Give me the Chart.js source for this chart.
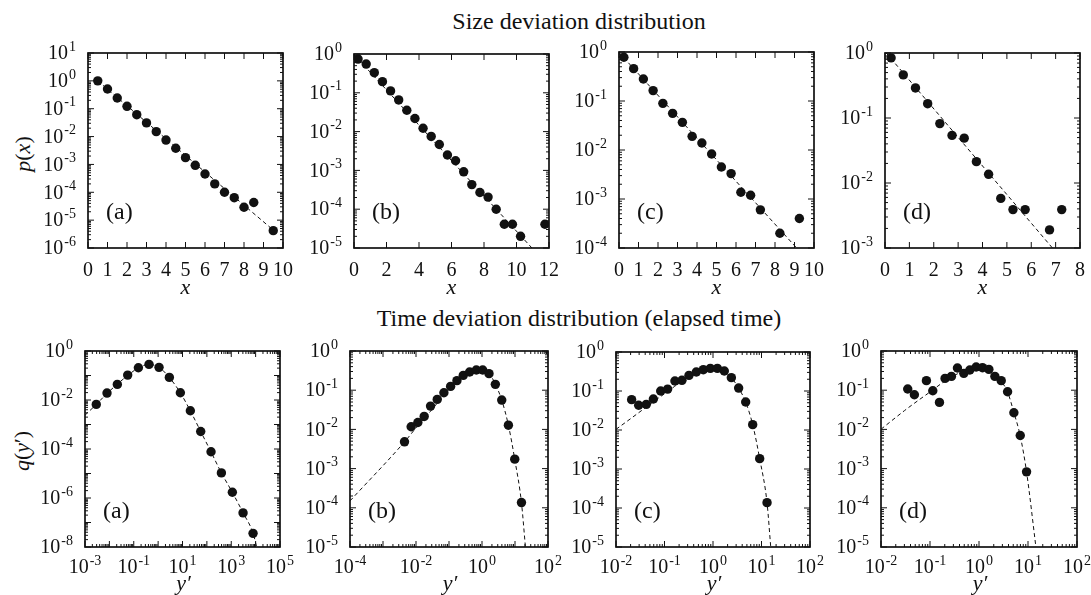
<!DOCTYPE html>
<html>
<head>
<meta charset="utf-8">
<script src="https://cdn.jsdelivr.net/npm/chart.js@4.4.1/dist/chart.umd.min.js"></script>
<style>
  body { margin: 0; background: #fff; }
  #fig { position: relative; width: 1091px; height: 595px; font-family: "Liberation Serif", "Times New Roman", serif; color: #111; }
  #fig canvas { position: absolute; left: 0; top: 0; }
  .lbl { position: absolute; transform: translate(-50%, -50%); white-space: nowrap; font-size: 24px; }
  .rot { transform: translate(-50%, -50%) rotate(-90deg); font-size: 22px; }
</style>
</head>
<body>
<div id="fig">
  <div class="lbl" style="left:579px;top:21px">Size deviation distribution</div>
  <div class="lbl" style="left:579px;top:318px">Time deviation distribution (elapsed time)</div>
  <div class="lbl rot" style="left:23px;top:154px"><i>p</i>(<i>x</i>)</div>
  <div class="lbl rot" style="left:22px;top:451px"><i>q</i>(<i>y</i>′)</div>
</div>
<script>
// ---- size deviation, p(x) ----
const sizeA_x = [0.5, 1, 1.5, 2, 2.5, 3, 3.5, 4, 4.5, 5, 5.5, 6, 6.5, 7, 7.5, 8, 8.5, 9.5];
const sizeA_p = [1.0, 0.51, 0.243, 0.122, 0.061, 0.031, 0.015, 0.0075, 0.0038, 0.00175, 0.00093, 0.000455, 0.0002, 0.0001, 6.4e-5, 2.9e-5, 4.3e-5, 4.2e-6];
const sizeA_fitX = [0.5, 9.78];
const sizeA_fitP = [1.0, 3.0e-6];

const sizeB_x = [0.25, 0.75, 1.25, 1.75, 2.25, 2.75, 3.25, 3.75, 4.25, 4.75, 5.25, 5.75, 6.25, 6.75, 7.25, 7.75, 8.25, 8.75, 9.25, 9.75, 10.25, 11.75];
const sizeB_p = [0.74, 0.55, 0.33, 0.194, 0.112, 0.0655, 0.0356, 0.0217, 0.0122, 0.0075, 0.00465, 0.0025, 0.00177, 0.00092, 0.00043, 0.00027, 0.000205, 0.0001, 4.1e-5, 4.1e-5, 2.0e-5, 4.1e-5];
const sizeB_fitX = [0, 10.95];
const sizeB_fitP = [0.97, 1e-5];

const sizeC_x = [0.25, 0.75, 1.25, 1.75, 2.25, 2.75, 3.25, 3.75, 4.25, 4.75, 5.25, 5.75, 6.25, 6.75, 7.25, 8.25, 9.25];
const sizeC_p = [0.78, 0.457, 0.281, 0.163, 0.0896, 0.056, 0.0367, 0.019, 0.0139, 0.0083, 0.0045, 0.0033, 0.00137, 0.00119, 0.0006, 0.0002, 0.0004];
const sizeC_fitX = [0, 9.11];
const sizeC_fitP = [0.98, 1e-4];

const sizeD_x = [0.25, 0.75, 1.25, 1.75, 2.25, 2.75, 3.25, 3.75, 4.25, 4.75, 5.25, 5.75, 6.75, 7.25];
const sizeD_p = [0.84, 0.46, 0.29, 0.166, 0.082, 0.054, 0.049, 0.0213, 0.0136, 0.0058, 0.0039, 0.0039, 0.0019, 0.0039];
const sizeD_fitX = [0.05, 6.87];
const sizeD_fitP = [1.0, 1e-3];

// ---- time deviation, q(y') ----
const timeA_y = [0.0029, 0.008, 0.0212, 0.0564, 0.155, 0.423, 1.09, 2.89, 8.17, 21, 55.8, 148, 394, 1110, 3050, 7840];
const timeA_q = [0.0066, 0.0192, 0.0434, 0.104, 0.208, 0.285, 0.215, 0.0838, 0.0198, 0.00363, 0.00052, 7.7e-5, 1.06e-5, 1.72e-6, 2.46e-7, 3.6e-8];
const timeA_fitY = [0.001, 0.0029, 0.008, 0.0212, 0.0564, 0.155, 0.42, 1.09, 2.89, 8.17, 21, 55.8, 148, 394, 1110, 3050, 7840, 11000];
const timeA_fitQ = [0.0024, 0.0066, 0.0185, 0.0445, 0.100, 0.205, 0.28, 0.215, 0.083, 0.0197, 0.0036, 0.00052, 7.6e-5, 1.06e-5, 1.7e-6, 2.5e-7, 3.7e-8, 1e-8];

const timeB_y = [0.00448, 0.00713, 0.01137, 0.0177, 0.0276, 0.044, 0.07, 0.112, 0.174, 0.271, 0.422, 0.673, 1.05, 1.63, 2.54, 3.96, 6.31, 9.83, 15.7];
const timeB_q = [0.00482, 0.01165, 0.015, 0.0214, 0.0393, 0.0582, 0.0861, 0.125, 0.175, 0.239, 0.291, 0.327, 0.327, 0.264, 0.141, 0.056, 0.0128, 0.00174, 0.000136];
const timeB_fitY = [1e-4, 0.00448, 0.0114, 0.0276, 0.07, 0.174, 0.422, 1.05, 1.63, 2.54, 3.96, 6.31, 9.83, 15.7, 20.7];
const timeB_fitQ = [1.5e-4, 0.0048, 0.0125, 0.029, 0.075, 0.17, 0.285, 0.33, 0.27, 0.143, 0.056, 0.0128, 0.00172, 0.000135, 1e-5];

const timeC_y = [0.021, 0.0293, 0.0422, 0.0589, 0.0834, 0.116, 0.164, 0.229, 0.32, 0.453, 0.632, 0.881, 1.23, 1.71, 2.39, 3.38, 4.72, 6.58, 9.17, 13.0];
const timeC_q = [0.06, 0.043, 0.0455, 0.0624, 0.1, 0.112, 0.18, 0.188, 0.252, 0.307, 0.352, 0.381, 0.381, 0.326, 0.22, 0.119, 0.0522, 0.0137, 0.00184, 0.000137];
const timeC_fitY = [0.01, 0.02, 0.04, 0.06, 0.1, 0.16, 0.25, 0.45, 0.88, 1.23, 1.71, 2.39, 3.38, 4.72, 6.58, 9.17, 13.0, 15.5];
const timeC_fitQ = [0.0104, 0.0195, 0.037, 0.054, 0.085, 0.13, 0.19, 0.29, 0.375, 0.38, 0.326, 0.22, 0.119, 0.052, 0.0137, 0.00184, 0.000137, 1e-5];

const timeD_y = [0.0351, 0.048, 0.0845, 0.114, 0.156, 0.203, 0.274, 0.363, 0.49, 0.65, 0.875, 1.18, 1.59, 2.11, 2.84, 3.83, 5.15, 6.95, 9.35];
const timeD_q = [0.107, 0.0766, 0.175, 0.097, 0.0488, 0.2, 0.225, 0.368, 0.269, 0.327, 0.39, 0.375, 0.34, 0.225, 0.175, 0.0914, 0.0266, 0.007, 0.000826];
const timeD_fitY = [0.01, 0.03, 0.06, 0.1, 0.2, 0.36, 0.65, 1.0, 1.59, 2.11, 2.84, 3.83, 5.15, 6.95, 9.35, 14.5];
const timeD_fitQ = [0.0101, 0.03, 0.057, 0.09, 0.17, 0.26, 0.35, 0.385, 0.345, 0.26, 0.17, 0.09, 0.027, 0.0068, 0.00082, 1e-5];

// ---- tick labels ----
const sizeA_xTicks = [0, 1, 2, 3, 4, 5, 6, 7, 8, 9, 10];
const sizeB_xTicks = [0, 2, 4, 6, 8, 10, 12];
const sizeC_xTicks = [0, 1, 2, 3, 4, 5, 6, 7, 8, 9, 10];
const sizeD_xTicks = [0, 1, 2, 3, 4, 5, 6, 7, 8];
const sizeA_yExp = [1, 0, -1, -2, -3, -4, -5, -6];
const sizeB_yExp = [0, -1, -2, -3, -4, -5];
const sizeC_yExp = [0, -1, -2, -3, -4];
const sizeD_yExp = [0, -1, -2, -3];
const timeA_xExp = [-3, -1, 1, 3, 5];
const timeB_xExp = [-4, -2, 0, 2];
const timeCD_xExp = [-2, -1, 0, 1, 2];
const timeA_yExp = [0, -2, -4, -6, -8];
const timeBCD_yExp = [0, -1, -2, -3, -4, -5];

const W = 1091, H = 595;
const INK = '#111';

const panels = [
  { box: [88, 53, 283, 248], xLog: false, xr: [0, 10], yr: [-6, 1], xTicks: sizeA_xTicks, yLab: sizeA_yExp, px: sizeA_x, py: sizeA_p, fx: sizeA_fitX, fy: sizeA_fitP, tag: '(a)', xl: 'x' },
  { box: [354, 54, 549, 248], xLog: false, xr: [0, 12], yr: [-5, 0], xTicks: sizeB_xTicks, yLab: sizeB_yExp, px: sizeB_x, py: sizeB_p, fx: sizeB_fitX, fy: sizeB_fitP, tag: '(b)', xl: 'x' },
  { box: [619, 52, 814, 248], xLog: false, xr: [0, 10], yr: [-4, 0], xTicks: sizeC_xTicks, yLab: sizeC_yExp, px: sizeC_x, py: sizeC_p, fx: sizeC_fitX, fy: sizeC_fitP, tag: '(c)', xl: 'x' },
  { box: [885, 53, 1080, 248], xLog: false, xr: [0, 8], yr: [-3, 0], xTicks: sizeD_xTicks, yLab: sizeD_yExp, px: sizeD_x, py: sizeD_p, fx: sizeD_fitX, fy: sizeD_fitP, tag: '(d)', xl: 'x' },
  { box: [85, 351, 280, 547], xLog: true, xr: [-3, 5], yr: [-8, 0], xLab: timeA_xExp, yLab: timeA_yExp, px: timeA_y, py: timeA_q, fx: timeA_fitY, fy: timeA_fitQ, tag: '(a)', xl: 'y' },
  { box: [350, 351, 548, 547], xLog: true, xr: [-4, 2], yr: [-5, 0], xLab: timeB_xExp, yLab: timeBCD_yExp, px: timeB_y, py: timeB_q, fx: timeB_fitY, fy: timeB_fitQ, tag: '(b)', xl: 'y' },
  { box: [616, 352, 810, 547], xLog: true, xr: [-2, 2], yr: [-5, 0], xLab: timeCD_xExp, yLab: timeBCD_yExp, px: timeC_y, py: timeC_q, fx: timeC_fitY, fy: timeC_fitQ, tag: '(c)', xl: 'y' },
  { box: [881, 351, 1077, 547], xLog: true, xr: [-2, 2], yr: [-5, 0], xLab: timeCD_xExp, yLab: timeBCD_yExp, px: timeD_y, py: timeD_q, fx: timeD_fitY, fy: timeD_fitQ, tag: '(d)', xl: 'y' }
];

const BASE = '20px "Liberation Serif", serif';
const SUP = '14px "Liberation Serif", serif';

// "10" with a raised exponent
function drawPow(ctx, e, x, y, align) {
  ctx.font = BASE;
  const w1 = ctx.measureText('10').width;
  ctx.font = SUP;
  const s = String(e);
  const w2 = ctx.measureText(s).width;
  const w = w1 + w2 + 1;
  const x0 = align === 'right' ? x - w : x - w / 2;
  ctx.textAlign = 'left';
  ctx.textBaseline = 'middle';
  ctx.font = BASE;
  ctx.fillText('10', x0, y + 1);
  ctx.font = SUP;
  ctx.fillText(s, x0 + w1 + 1, y - 6);
}

function line(ctx, x1, y1, x2, y2) {
  ctx.beginPath();
  ctx.moveTo(x1, y1);
  ctx.lineTo(x2, y2);
  ctx.stroke();
}

function makeFrame(p) {
  return {
    id: 'frame',
    beforeDatasetsDraw(chart) {
      const { ctx, chartArea: a, scales: { x, y } } = chart;
      ctx.save();
      ctx.strokeStyle = INK;
      ctx.fillStyle = INK;
      const MJ = 6, MN = 3;
      ctx.lineWidth = 1;

      // y ticks (log, both sides)
      for (let d = p.yr[0]; d <= p.yr[1]; d++) {
        const py = y.getPixelForValue(Math.pow(10, d));
        line(ctx, a.left, py, a.left + MJ, py);
        line(ctx, a.right, py, a.right - MJ, py);
        if (d < p.yr[1]) {
          for (let m = 2; m <= 9; m++) {
            const q = y.getPixelForValue(m * Math.pow(10, d));
            line(ctx, a.left, q, a.left + MN, q);
            line(ctx, a.right, q, a.right - MN, q);
          }
        }
      }
      // x ticks
      if (p.xLog) {
        for (let d = p.xr[0]; d <= p.xr[1]; d++) {
          const px = x.getPixelForValue(Math.pow(10, d));
          line(ctx, px, a.bottom, px, a.bottom - MJ);
          line(ctx, px, a.top, px, a.top + MJ);
          if (d < p.xr[1]) {
            for (let m = 2; m <= 9; m++) {
              const q = x.getPixelForValue(m * Math.pow(10, d));
              line(ctx, q, a.bottom, q, a.bottom - MN);
              line(ctx, q, a.top, q, a.top + MN);
            }
          }
        }
      } else {
        p.xTicks.forEach(v => {
          const px = x.getPixelForValue(v);
          line(ctx, px, a.bottom, px, a.bottom - MJ);
          line(ctx, px, a.top, px, a.top + MJ);
        });
      }

      // frame
      ctx.lineWidth = 1.7;
      ctx.strokeRect(a.left, a.top, a.right - a.left, a.bottom - a.top);

      // tick labels
      p.yLab.forEach(e => drawPow(ctx, e, a.left - 12, y.getPixelForValue(Math.pow(10, e)), 'right'));
      if (p.xLog) {
        p.xLab.forEach(e => drawPow(ctx, e, x.getPixelForValue(Math.pow(10, e)), a.bottom + 20, 'center'));
      } else {
        ctx.font = BASE;
        ctx.textAlign = 'center';
        ctx.textBaseline = 'middle';
        p.xTicks.forEach(v => ctx.fillText(String(v), x.getPixelForValue(v), a.bottom + 23));
      }

      // axis label under the panel
      ctx.font = 'italic 22px "Liberation Serif", serif';
      ctx.textAlign = 'center';
      ctx.textBaseline = 'middle';
      const cx = (a.left + a.right) / 2;
      if (p.xl === 'x') {
        ctx.fillText('x', cx, a.bottom + 40);
      } else {
        ctx.fillText('y\u2032', cx + 1, a.bottom + 37);
      }

      // panel tag
      ctx.font = '24px "Liberation Serif", serif';
      ctx.textAlign = 'left';
      ctx.textBaseline = 'alphabetic';
      ctx.fillText(p.tag, a.left + 18, a.bottom - 29);
      ctx.restore();
    }
  };
}

const fig = document.getElementById('fig');

panels.forEach(p => {
  const canvas = document.createElement('canvas');
  canvas.width = W;
  canvas.height = H;
  fig.appendChild(canvas);

  const pts = p.px.map((v, i) => ({ x: v, y: p.py[i] }));
  const fit = p.fx.map((v, i) => ({ x: v, y: p.fy[i] }));

  new Chart(canvas, {
    type: 'line',
    data: {
      datasets: [
        {
          data: pts,
          showLine: false,
          pointRadius: 4.7,
          pointBackgroundColor: INK,
          pointBorderWidth: 0
        },
        {
          data: fit,
          borderColor: INK,
          borderWidth: 1,
          borderDash: [4, 3],
          pointRadius: 0,
          fill: false,
          cubicInterpolationMode: p.xLog ? 'monotone' : 'default'
        }
      ]
    },
    options: {
      responsive: false,
      animation: false,
      events: [],
      layout: {
        autoPadding: false,
        padding: { left: p.box[0], top: p.box[1], right: W - p.box[2], bottom: H - p.box[3] }
      },
      plugins: { legend: { display: false }, tooltip: { enabled: false } },
      scales: {
        x: p.xLog
          ? { type: 'logarithmic', min: Math.pow(10, p.xr[0]), max: Math.pow(10, p.xr[1]), display: false }
          : { type: 'linear', min: p.xr[0], max: p.xr[1], display: false },
        y: { type: 'logarithmic', min: Math.pow(10, p.yr[0]), max: Math.pow(10, p.yr[1]), display: false }
      }
    },
    plugins: [makeFrame(p)]
  });
});
</script>
</body>
</html>
